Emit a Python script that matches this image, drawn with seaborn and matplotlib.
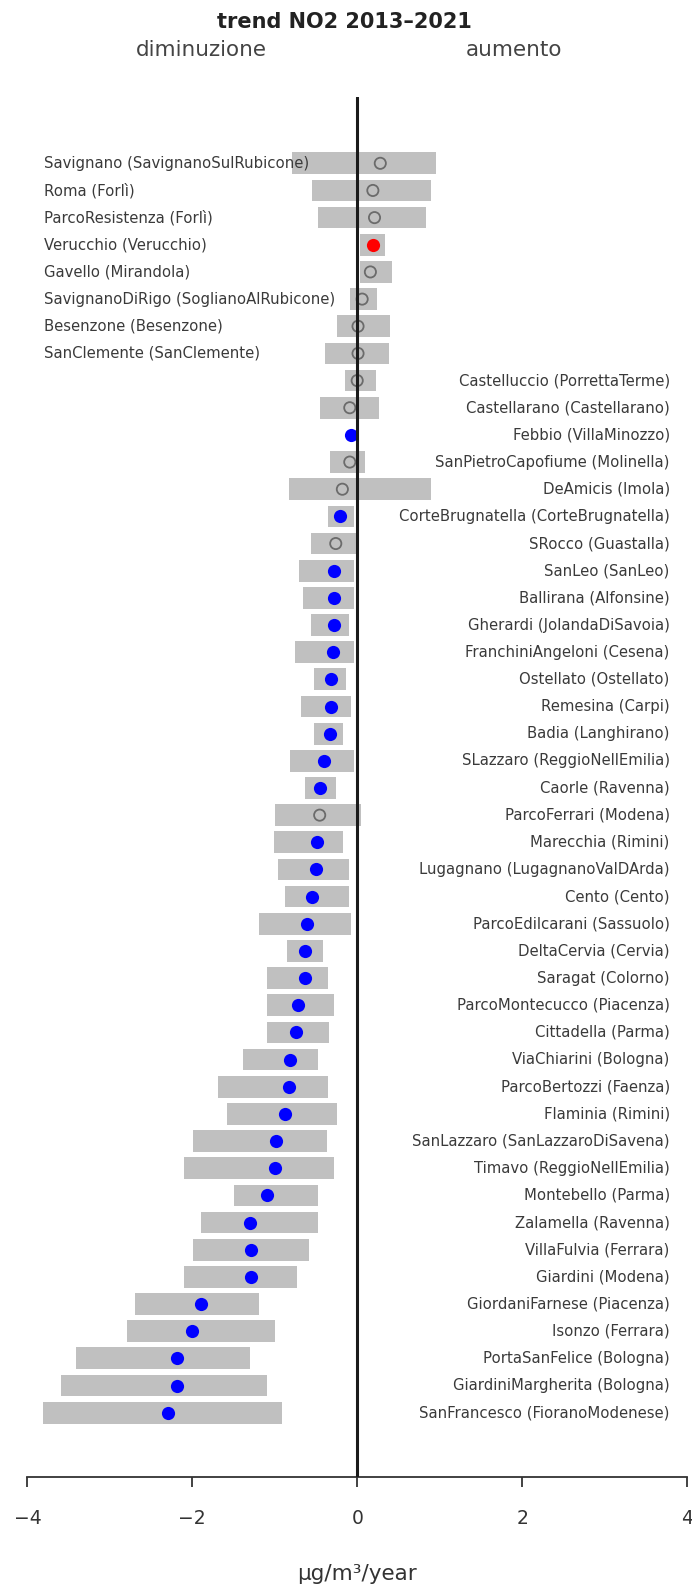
import numpy as np
import pandas as pd
import matplotlib
matplotlib.use("Agg")
import matplotlib.pyplot as plt
import seaborn as sns

# stations, top to bottom
stations = [
    "Savignano (SavignanoSulRubicone)", "Roma (Forlì)", "ParcoResistenza (Forlì)",
    "Verucchio (Verucchio)", "Gavello (Mirandola)", "SavignanoDiRigo (SoglianoAlRubicone)",
    "Besenzone (Besenzone)", "SanClemente (SanClemente)", "Castelluccio (PorrettaTerme)",
    "Castellarano (Castellarano)", "Febbio (VillaMinozzo)", "SanPietroCapofiume (Molinella)",
    "DeAmicis (Imola)", "CorteBrugnatella (CorteBrugnatella)", "SRocco (Guastalla)",
    "SanLeo (SanLeo)", "Ballirana (Alfonsine)", "Gherardi (JolandaDiSavoia)",
    "FranchiniAngeloni (Cesena)", "Ostellato (Ostellato)", "Remesina (Carpi)",
    "Badia (Langhirano)", "SLazzaro (ReggioNellEmilia)", "Caorle (Ravenna)",
    "ParcoFerrari (Modena)", "Marecchia (Rimini)", "Lugagnano (LugagnanoValDArda)",
    "Cento (Cento)", "ParcoEdilcarani (Sassuolo)", "DeltaCervia (Cervia)",
    "Saragat (Colorno)", "ParcoMontecucco (Piacenza)", "Cittadella (Parma)",
    "ViaChiarini (Bologna)", "ParcoBertozzi (Faenza)", "Flaminia (Rimini)",
    "SanLazzaro (SanLazzaroDiSavena)", "Timavo (ReggioNellEmilia)", "Montebello (Parma)",
    "Zalamella (Ravenna)", "VillaFulvia (Ferrara)", "Giardini (Modena)",
    "GiordaniFarnese (Piacenza)", "Isonzo (Ferrara)", "PortaSanFelice (Bologna)",
    "GiardiniMargherita (Bologna)", "SanFrancesco (FioranoModenese)",
]

# trend estimate (ug/m3/year)
trend = [0.28, 0.19, 0.21, 0.19, 0.16, 0.06, 0.01, 0.01, 0.0, -0.09,
         -0.08, -0.09, -0.18, -0.21, -0.26, -0.28, -0.28, -0.28, -0.29, -0.32,
         -0.32, -0.33, -0.40, -0.45, -0.455, -0.49, -0.50, -0.55, -0.61, -0.63,
         -0.63, -0.72, -0.74, -0.81, -0.83, -0.87, -0.98, -1.00, -1.10, -1.30,
         -1.29, -1.29, -1.89, -2.00, -2.19, -2.19, -2.29]

# confidence interval
lower = [-0.79, -0.55, -0.475, 0.04, 0.04, -0.09, -0.25, -0.39, -0.15, -0.455,
         np.nan, -0.33, -0.83, -0.36, -0.56, -0.71, -0.66, -0.56, -0.75, -0.53,
         -0.68, -0.53, -0.82, -0.63, -0.995, -1.01, -0.955, -0.88, -1.19, -0.85,
         -1.09, -1.09, -1.09, -1.39, -1.69, -1.58, -1.99, -2.10, -1.50, -1.89,
         -1.99, -2.10, -2.70, -2.79, -3.41, -3.59, -3.81]
upper = [0.95, 0.90, 0.84, 0.34, 0.42, 0.24, 0.40, 0.38, 0.23, 0.26,
         np.nan, 0.10, 0.89, -0.04, 0.02, -0.04, -0.04, -0.10, -0.04, -0.14,
         -0.08, -0.17, -0.04, -0.26, 0.05, -0.17, -0.10, -0.10, -0.07, -0.41,
         -0.36, -0.285, -0.345, -0.47, -0.35, -0.24, -0.37, -0.28, -0.475, -0.475,
         -0.58, -0.73, -1.19, -0.995, -1.30, -1.09, -0.91]

# significance: dec = significant decrease, inc = significant increase, ns = not significant
signif = ["ns", "ns", "ns", "inc", "ns", "ns", "ns", "ns", "ns", "ns",
          "dec", "ns", "ns", "dec", "ns", "dec", "dec", "dec", "dec", "dec",
          "dec", "dec", "dec", "dec", "ns", "dec", "dec", "dec", "dec", "dec",
          "dec", "dec", "dec", "dec", "dec", "dec", "dec", "dec", "dec", "dec",
          "dec", "dec", "dec", "dec", "dec", "dec", "dec"]

n_left = 8  # first stations labelled on the left side

df = pd.DataFrame({"station": stations, "trend": trend, "lower": lower,
                   "upper": upper, "signif": signif})
df["row"] = np.arange(len(df))

sns.set_style("white")
plt.rcParams["font.family"] = ["DejaVu Sans"]

W, H = 692, 1591
fig = plt.figure(figsize=(W / 100, H / 100), dpi=100)
ax_left, ax_right = 27.4, 687.0
ax_top, ax_bot = 97.0, 1477.0
ax = fig.add_axes([ax_left / W, 1 - ax_bot / H,
                   (ax_right - ax_left) / W, (ax_bot - ax_top) / H])

# confidence interval bars
ax.barh(df["row"], df["upper"] - df["lower"], left=df["lower"], height=0.8,
        color="#C0C0C0", linewidth=0, zorder=1)

# trend points
ns = df[df["signif"] == "ns"]
sns.scatterplot(data=ns, x="trend", y="row", ax=ax, s=65, marker="o",
                facecolor="none", edgecolor="#6b6b6b", linewidth=1.3, zorder=3)
dec = df[df["signif"] == "dec"]
sns.scatterplot(data=dec, x="trend", y="row", ax=ax, s=90, color="#0000FF",
                linewidth=0, zorder=3)
inc = df[df["signif"] == "inc"]
sns.scatterplot(data=inc, x="trend", y="row", ax=ax, s=90, color="#FF0000",
                linewidth=0, zorder=3)

ax.axvline(0, color="#1a1a1a", lw=2.2, zorder=4)

# station labels
for _, r in df.iterrows():
    if r["row"] < n_left:
        ax.text(-3.80, r["row"], r["station"], ha="left", va="center",
                fontsize=10.75, color="#3a3a3a", zorder=5)
    else:
        ax.text(3.79, r["row"], r["station"], ha="right", va="center",
                fontsize=10.75, color="#3a3a3a", zorder=5)

row_step = 27.16
ax.set_ylim((ax_bot - 163.3) / row_step, (ax_top - 163.3) / row_step)
ax.set_xlim(-4, 4)
ax.set_xticks([-4, -2, 0, 2, 4])
ax.set_yticks([])
for side in ["top", "right", "left"]:
    ax.spines[side].set_visible(False)
ax.spines["bottom"].set_bounds(-4, 4)
ax.spines["bottom"].set_color("#333333")
ax.spines["bottom"].set_linewidth(1.3)
ax.tick_params(axis="x", direction="out", length=7, width=1.3, color="#333333",
               labelsize=13.5, labelcolor="#333333", pad=16, bottom=True)
ax.set_xlabel("µg/m³/year", fontsize=15.5, color="#333333", labelpad=26)
ax.set_ylabel("")

fig.text(344 / W, 1 - 22 / H, "trend NO2 2013–2021", ha="center", va="center",
         fontsize=15, fontweight="bold", color="#222222")
fig.text(201 / W, 1 - 50 / H, "diminuzione", ha="center", va="center",
         fontsize=15.5, color="#444444")
fig.text(514 / W, 1 - 50 / H, "aumento", ha="center", va="center",
         fontsize=15.5, color="#444444")

fig.savefig("out.png", dpi=100)
